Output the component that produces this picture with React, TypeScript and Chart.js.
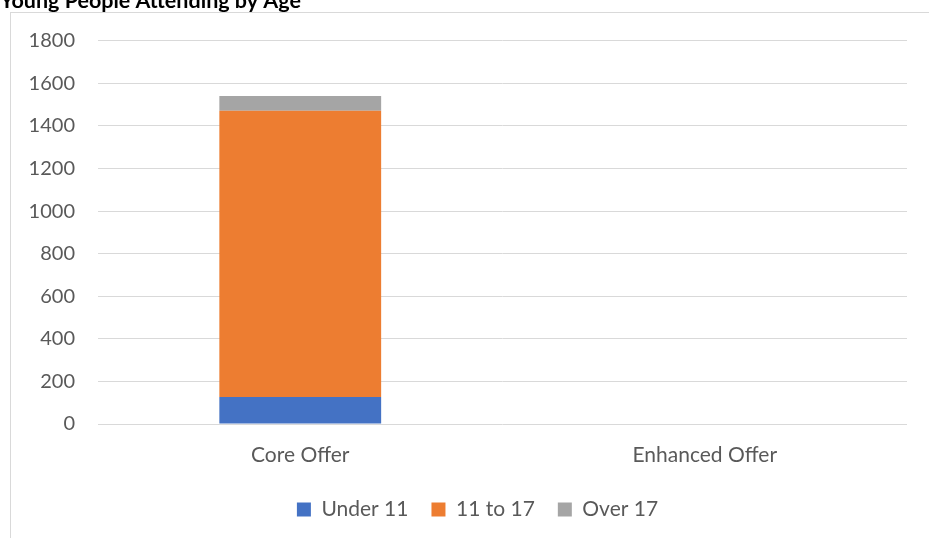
import React, { useEffect, useRef } from "react";
import { Chart, registerables } from "chart.js";

Chart.register(...registerables);

const categories = ["Core Offer", "Enhanced Offer"];
const under11 = [127, 0];
const age11to17 = [1344, 0];
const over17 = [70, 0];
const yTicks = { min: 0, max: 1800, step: 200 };

const FONT = "Lato, 'Open Sans', sans-serif";

const frame = {
  id: "frame",
  beforeDraw(chart: any) {
    const ctx = chart.ctx;
    ctx.save();
    ctx.strokeStyle = "#d9d9d9";
    ctx.lineWidth = 1;
    ctx.strokeRect(10.5, 27.5, 3000, 3000);
    ctx.restore();
  },
};

const legendShift = {
  id: "legendShift",
  afterLayout(chart: any) {
    const lg = chart.legend;
    if (lg) {
      lg.left += 24;
      lg.right += 24;
    }
  },
};

export default function App() {
  const ref = useRef<HTMLCanvasElement>(null);
  useEffect(() => {
    if (!ref.current) return;
    const chart = new Chart(ref.current, {
      type: "bar",
      data: {
        labels: categories,
        datasets: [
          { label: "Under 11", data: under11, backgroundColor: "#4472C4" },
          { label: "11 to 17", data: age11to17, backgroundColor: "#ED7D31" },
          { label: "Over 17", data: over17, backgroundColor: "#A5A5A5" },
        ],
      },
      options: {
        animation: false,
        responsive: false,
        maintainAspectRatio: false,
        datasets: { bar: { categoryPercentage: 0.4, barPercentage: 1 } },
        layout: { padding: { left: 0, right: 22, top: 0, bottom: 8 } },
        plugins: {
          title: {
            display: true,
            text: "Young People Attending by Age",
            align: "start",
            color: "#000000",
            font: { family: FONT, size: 21.5, weight: "bold" },
            padding: { top: 3, bottom: 27 },
          },
          legend: {
            position: "bottom",
            labels: {
              boxWidth: 14,
              boxHeight: 14,
              color: "#595959",
              padding: 23,
              font: { family: FONT, size: 21 },
            },
          },
          tooltip: { enabled: false },
        },
        scales: {
          x: {
            stacked: true,
            afterFit: (s: any) => {
              s.height = 52;
            },
            grid: { display: false, drawTicks: false },
            border: { display: false },
            ticks: { color: "#595959", padding: 19, font: { family: FONT, size: 21 } },
          },
          y: {
            stacked: true,
            min: yTicks.min,
            max: yTicks.max,
            afterFit: (s: any) => {
              s.width = 98;
            },
            grid: { color: "#d9d9d9", lineWidth: 1, drawTicks: false },
            border: { display: false },
            ticks: {
              stepSize: yTicks.step,
              color: "#595959",
              padding: 23,
              font: { family: FONT, size: 20 },
              callback: (v: any) => String(v),
            },
          },
        },
      },
      plugins: [frame, legendShift],
    });
    return () => chart.destroy();
  }, []);
  return (
    <div style={{ position: "fixed", left: 0, top: -15, width: 929, height: 553 }}>
      <canvas ref={ref} width={929} height={553} style={{ width: 929, height: 553, display: "block" }} />
    </div>
  );
}
